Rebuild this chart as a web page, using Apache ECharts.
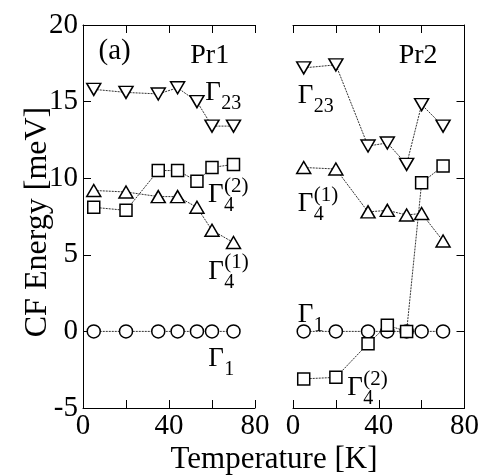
<!DOCTYPE html>
<html>
<head>
<meta charset="utf-8">
<script src="https://cdn.jsdelivr.net/npm/echarts@6/dist/echarts.min.js"></script>
<style>
  html, body { margin: 0; padding: 0; background: #fff; }
  #chart { width: 482px; height: 475px; }
</style>
</head>
<body>
<div id="chart"></div>
<script>
// Measurement temperatures (K), shared by both Pr sites
const temperatures = [5, 20, 35, 44, 53, 60, 70];

// Pr1 crystal-field levels (meV)
const pr1Gamma1  = [0, 0, 0, 0, 0, 0, 0];
const pr1Gamma4a = [9.2, 9.1, 8.8, 8.8, 8.1, 6.6, 5.8];      // Γ4(1)
const pr1Gamma4b = [8.1, 7.9, 10.5, 10.5, 9.8, 10.7, 10.9];  // Γ4(2)
const pr1Gamma23 = [15.8, 15.6, 15.5, 15.9, 15.0, 13.4, 13.4];

// Pr2 crystal-field levels (meV)
const pr2Gamma1  = [0, 0, 0, 0, 0, 0, 0];
const pr2Gamma4a = [10.7, 10.6, 7.8, 7.9, 7.6, 7.7, 5.9];    // Γ4(1)
const pr2Gamma4b = [-3.1, -3.0, -0.8, 0.4, 0.0, 9.7, 10.8];  // Γ4(2)
const pr2Gamma23 = [17.2, 17.4, 12.1, 12.3, 10.9, 14.8, 13.4];

// Tick labels
const xTickLabels = ['0', '40', '80'];
const yTickLabels = ['-5', '0', '5', '10', '15', '20'];

const SERIF = "'Liberation Serif', 'Times New Roman', serif";
const chart = echarts.init(document.getElementById('chart'), null, { renderer: 'canvas' });

function pairs(ys) { return temperatures.map((t, i) => [t, ys[i]]); }

const markers = {
  circle:   { symbol: 'circle',   symbolSize: 13, symbolRotate: 0 },
  square:   { symbol: 'rect',     symbolSize: 12, symbolRotate: 0 },
  triUp:    { symbol: 'triangle', symbolSize: [14, 12], symbolRotate: 0 },
  triDown:  { symbol: 'triangle', symbolSize: [14, 12], symbolRotate: 180 }
};

function levelSeries(name, ys, mark, axisIdx) {
  return {
    name: name,
    type: 'line',
    xAxisIndex: axisIdx * 2,
    yAxisIndex: axisIdx,
    data: pairs(ys),
    symbol: mark.symbol,
    symbolSize: mark.symbolSize,
    symbolRotate: mark.symbolRotate,
    showAllSymbol: true,
    animation: false,
    lineStyle: { color: '#333', width: 1, type: [2, 1] },
    itemStyle: { color: '#fff', borderColor: '#000', borderWidth: 1.5 },
    emphasis: { disabled: true }
  };
}

function xAxisFor(gridIndex, position, labels) {
  return {
    type: 'value', gridIndex: gridIndex, position: position,
    min: 0, max: 80, interval: 20,
    axisLine: { show: true, onZero: false, lineStyle: { color: '#000', width: 1 } },
    axisTick: { show: true, inside: true, length: 8, lineStyle: { color: '#000', width: 1 } },
    axisLabel: {
      show: labels, color: '#000', fontFamily: SERIF, fontSize: 29, margin: 4,
      formatter: v => (xTickLabels.indexOf(String(v)) >= 0 ? String(v) : '')
    },
    splitLine: { show: false }
  };
}

function yAxisFor(gridIndex, position, labels) {
  return {
    type: 'value', gridIndex: gridIndex, position: position,
    min: -5, max: 20, interval: 5,
    axisLine: { show: true, onZero: false, lineStyle: { color: '#000', width: 1 } },
    axisTick: { show: true, inside: true, length: 8, lineStyle: { color: '#000', width: 1 } },
    axisLabel: {
      show: labels, color: '#000', fontFamily: SERIF, fontSize: 29, margin: 5,
      formatter: v => (yTickLabels.indexOf(String(v)) >= 0 ? String(v) : '')
    },
    splitLine: { show: false }
  };
}

chart.setOption({
  backgroundColor: '#fff',
  animation: false,
  grid: [
    { left: 83, top: 25, width: 172, height: 383 },
    { left: 293, top: 25, width: 173, height: 383 }
  ],
  xAxis: [
    xAxisFor(0, 'bottom', true),
    xAxisFor(0, 'top', false),
    xAxisFor(1, 'bottom', true),
    xAxisFor(1, 'top', false)
  ],
  yAxis: [
    yAxisFor(0, 'left', true),
    yAxisFor(1, 'right', false)
  ],
  series: [
    levelSeries('Pr1 Γ1', pr1Gamma1, markers.circle, 0),
    levelSeries('Pr1 Γ4(2)', pr1Gamma4b, markers.square, 0),
    levelSeries('Pr1 Γ4(1)', pr1Gamma4a, markers.triUp, 0),
    levelSeries('Pr1 Γ23', pr1Gamma23, markers.triDown, 0),
    levelSeries('Pr2 Γ1', pr2Gamma1, markers.circle, 1),
    levelSeries('Pr2 Γ4(2)', pr2Gamma4b, markers.square, 1),
    levelSeries('Pr2 Γ4(1)', pr2Gamma4a, markers.triUp, 1),
    levelSeries('Pr2 Γ23', pr2Gamma23, markers.triDown, 1)
  ]
});

// Annotations anchored in data units: [gridIndex, T, E]
function textEl(x, y, str, size, align) {
  return {
    type: 'text', x: x, y: y, silent: true,
    style: { text: str, fontFamily: SERIF, fontSize: size, fill: '#000',
             align: align || 'left', verticalAlign: 'middle' }
  };
}

function gammaLabel(grid, t, e, sub, sup) {
  const p = chart.convertToPixel({ gridIndex: grid }, [t, e]);
  const els = [textEl(p[0], p[1], 'Γ', 27)];
  els.push(textEl(p[0] + 16, p[1] + 11, sub, 20));
  if (sup) els.push(textEl(p[0] + 16, p[1] - 9, sup, 21));
  return els;
}

function plainLabel(grid, t, e, str, size) {
  const p = chart.convertToPixel({ gridIndex: grid }, [t, e]);
  return textEl(p[0], p[1], str, size);
}

const graphics = [
  plainLabel(0, 7.2, 18.3, '(a)', 29),
  plainLabel(0, 49.9, 18.0, 'Pr1', 28),
  plainLabel(1, 49.3, 18.0, 'Pr2', 28),
  ...gammaLabel(0, 56.9, 15.6, '23'),
  ...gammaLabel(0, 58.1, 8.9, '4', '(2)'),
  ...gammaLabel(0, 58.3, 3.9, '4', '(1)'),
  ...gammaLabel(0, 58.3, -1.8, '1'),
  ...gammaLabel(1, 2.2, 15.4, '23'),
  ...gammaLabel(1, 2.2, 8.3, '4', '(1)'),
  ...gammaLabel(1, 2.2, 1.1, '1'),
  ...gammaLabel(1, 25.3, -3.7, '4', '(2)'),
  // Axis titles
  textEl(274, 460, 'Temperature [K]', 31, 'center'),
  {
    type: 'text', x: 38, y: 222, rotation: Math.PI / 2, silent: true,
    style: { text: 'CF Energy [meV]', fontFamily: SERIF, fontSize: 32, fill: '#000',
             align: 'center', verticalAlign: 'middle' }
  }
];

chart.setOption({ graphic: graphics });
</script>
</body>
</html>
